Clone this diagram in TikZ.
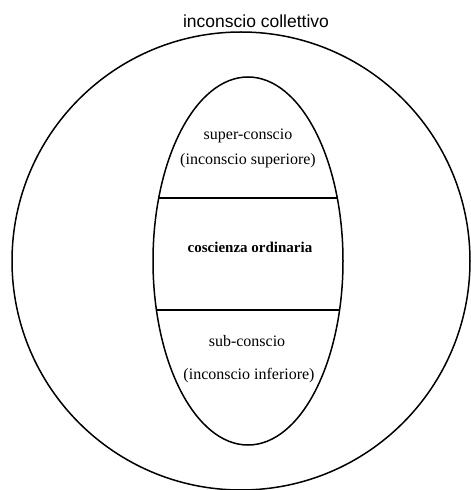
\documentclass[tikz,border=0pt]{standalone}
\usepackage{fontspec}
\setmainfont{Liberation Serif}
\newfontfamily\titlefont{Liberation Sans}
\begin{document}
\begin{tikzpicture}[x=1pt,y=1pt,
  outline/.style={draw=black,line width=1.5pt},
  divider/.style={draw=black,line width=1.5pt},
  label/.style={font=\fontsize{16}{18}\selectfont,inner sep=0pt,anchor=base},
  boldlabel/.style={font=\fontsize{15}{17}\selectfont\bfseries,inner sep=0pt,anchor=base},
  titlelabel/.style={font=\titlefont\fontsize{17.5}{20}\selectfont,inner sep=0pt,anchor=base}]
\useasboundingbox (0,0) rectangle (471,490);
% outer circle and inner ellipse
\draw[outline] (241,229) circle [radius=229];
\draw[outline] (248,229) ellipse [x radius=95, y radius=184];
% dividers
\coordinate (t1) at (159,292);
\coordinate (t2) at (337,292);
\coordinate (b1) at (156.5,180);
\coordinate (b2) at (339.5,180);
\draw[divider] (t1) -- (t2);
\draw[divider] (b1) -- (b2);
% texts
\node[titlelabel] (title) at (256,462) {inconscio collettivo};
\node[label] (sup1) at (248,350) {super-conscio};
\node[label] (sup2) at (248,325) {(inconscio superiore)};
\node[boldlabel] (ord) at (250,237) {coscienza ordinaria};
\node[label] (sub1) at (247,143) {sub-conscio};
\node[label] (sub2) at (249,110) {(inconscio inferiore)};
\end{tikzpicture}
\end{document}
